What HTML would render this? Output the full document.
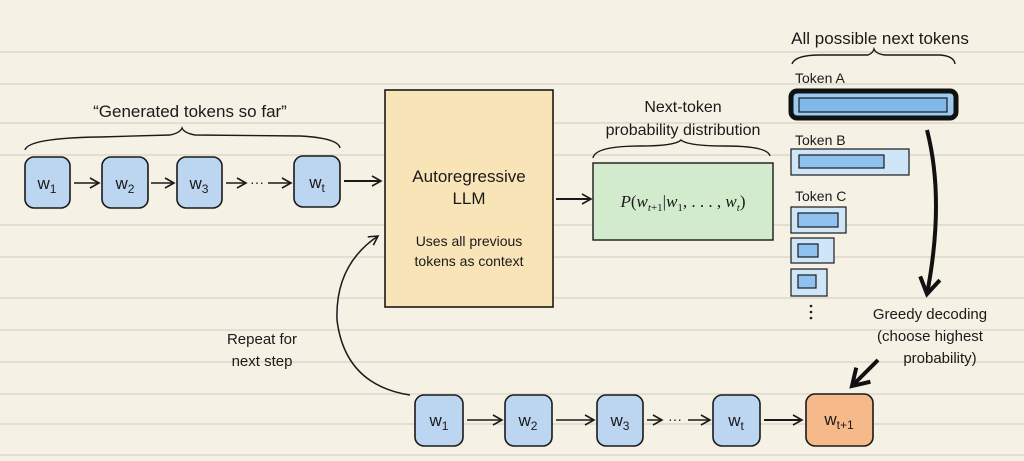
<!DOCTYPE html>
<html><head><meta charset="utf-8"><style>
html,body{margin:0;padding:0;background:#f5f1e4;}
svg{display:block;}
text{font-family:"Liberation Sans",sans-serif;fill:#1a1a1a;}
</style></head><body>
<svg width="1024" height="461" viewBox="0 0 1024 461" xmlns="http://www.w3.org/2000/svg">
<defs>
<marker id="ah" markerWidth="12" markerHeight="12" refX="10" refY="6" orient="auto" markerUnits="userSpaceOnUse">
<path d="M1,1 L10,6 L1,11" fill="none" stroke="#1a1a1a" stroke-width="1.6"/></marker>
<marker id="ahb" markerWidth="24" markerHeight="24" refX="18" refY="12" orient="auto" markerUnits="userSpaceOnUse">
<path d="M2,2 L18,12 L2,22" fill="none" stroke="#111" stroke-width="4"/></marker>
</defs>
<rect width="1024" height="461" fill="#f5f1e4"/>
<g stroke="#dcd8cc" stroke-width="1.5">
<line x1="0" y1="52" x2="1024" y2="52"/><line x1="0" y1="84" x2="1024" y2="84"/>
<line x1="0" y1="123" x2="1024" y2="123"/><line x1="0" y1="155" x2="1024" y2="155"/>
<line x1="0" y1="225" x2="1024" y2="225"/><line x1="0" y1="257" x2="1024" y2="257"/>
<line x1="0" y1="298" x2="1024" y2="298"/><line x1="0" y1="330" x2="1024" y2="330"/>
<line x1="0" y1="362" x2="1024" y2="362"/><line x1="0" y1="394" x2="1024" y2="394"/>
<line x1="0" y1="424" x2="1024" y2="424"/><line x1="0" y1="455" x2="1024" y2="455"/>
</g>
<!-- top tokens -->
<text x="190" y="117" font-size="17" text-anchor="middle">“Generated tokens so far”</text>
<path d="M25,150 Q28,138 100,137 L170,135 Q180,133 182,128 Q184,133 195,135 L300,136 Q338,138 340,148" fill="none" stroke="#1a1a1a" stroke-width="1.4"/>
<g fill="#bcd6f2" stroke="#1a1a1a" stroke-width="1.6">
<rect x="25" y="157" width="45" height="51" rx="9"/><rect x="102" y="157" width="46" height="51" rx="9"/>
<rect x="177" y="157" width="45" height="51" rx="9"/><rect x="294" y="156" width="46" height="51" rx="9"/>
</g>
<g font-size="17" text-anchor="middle"><text x="47" y="189">w<tspan font-size="12" dy="4">1</tspan></text>
<text x="125" y="189">w<tspan font-size="12" dy="4">2</tspan></text><text x="199" y="189">w<tspan font-size="12" dy="4">3</tspan></text>
<text x="317" y="188">w<tspan font-size="12" dy="4">t</tspan></text></g>
<g stroke="#1a1a1a" stroke-width="1.5" fill="none" marker-end="url(#ah)">
<line x1="74" y1="183" x2="99" y2="183"/><line x1="151" y1="183" x2="174" y2="183"/>
<line x1="226" y1="183" x2="246" y2="183"/><line x1="268" y1="183" x2="291" y2="183"/>
<line x1="344" y1="181" x2="381" y2="181" stroke-width="2"/>
<line x1="556" y1="199" x2="591" y2="199" stroke-width="2"/>
</g>
<text x="257" y="187" font-size="14" text-anchor="middle">···</text>
<!-- LLM -->
<rect x="385" y="90" width="168" height="217" fill="#f8e4b6" stroke="#1a1a1a" stroke-width="1.6"/>
<text x="469" y="182" font-size="17" text-anchor="middle">Autoregressive</text>
<text x="469" y="204" font-size="17" text-anchor="middle">LLM</text>
<text x="469" y="246" font-size="14" text-anchor="middle">Uses all previous</text>
<text x="469" y="266" font-size="14" text-anchor="middle">tokens as context</text>
<!-- distribution -->
<text x="683" y="112" font-size="16" text-anchor="middle">Next-token</text>
<text x="683" y="135" font-size="16" text-anchor="middle">probability distribution</text>
<path d="M593,158 Q595,146 640,146 Q675,146 681,140 Q688,146 725,146 Q768,146 770,156" fill="none" stroke="#1a1a1a" stroke-width="1.4"/>
<rect x="593" y="163" width="180" height="77" fill="#d3ebcd" stroke="#1a1a1a" stroke-width="1.4"/>
<text x="683" y="207" font-size="17" text-anchor="middle" font-family="Liberation Serif" style="font-family:'Liberation Serif',serif"><tspan font-style="italic">P</tspan>(<tspan font-style="italic">w</tspan><tspan font-size="11" dy="4"><tspan font-style="italic">t</tspan>+1</tspan><tspan dy="-4">|</tspan><tspan font-style="italic">w</tspan><tspan font-size="11" dy="4">1</tspan><tspan dy="-4">, . . . , </tspan><tspan font-style="italic">w</tspan><tspan font-size="11" dy="4" font-style="italic">t</tspan><tspan dy="-4">)</tspan></text>
<!-- tokens -->
<text x="880" y="44" font-size="17" text-anchor="middle">All possible next tokens</text>
<path d="M792,64 Q795,55 820,55 L868,55 Q873,53 874,49 Q876,54 885,55 L940,55 Q954,56 955,64" fill="none" stroke="#1a1a1a" stroke-width="1.4"/>
<text x="795" y="83" font-size="14">Token A</text>
<rect x="791" y="91" width="165" height="27" rx="6" fill="#9ccbf0" stroke="#111" stroke-width="5"/>
<rect x="799" y="98" width="148" height="14" fill="#7fb9ea" stroke="#1a1a1a" stroke-width="1.2"/>
<text x="795" y="145" font-size="14">Token B</text>
<rect x="791" y="149" width="118" height="26" fill="#cfe5f8" stroke="#1a1a1a" stroke-width="1.2"/>
<rect x="799" y="155" width="85" height="13" fill="#8fc2ee" stroke="#1a1a1a" stroke-width="1.2"/>
<text x="795" y="201" font-size="14">Token C</text>
<rect x="791" y="207" width="55" height="26" fill="#cfe5f8" stroke="#1a1a1a" stroke-width="1.2"/>
<rect x="798" y="213" width="40" height="14" fill="#8fc2ee" stroke="#1a1a1a" stroke-width="1.2"/>
<rect x="791" y="238" width="43" height="25" fill="#cfe5f8" stroke="#1a1a1a" stroke-width="1.2"/>
<rect x="798" y="244" width="20" height="13" fill="#8fc2ee" stroke="#1a1a1a" stroke-width="1.2"/>
<rect x="791" y="269" width="36" height="27" fill="#cfe5f8" stroke="#1a1a1a" stroke-width="1.2"/>
<rect x="798" y="275" width="18" height="13" fill="#8fc2ee" stroke="#1a1a1a" stroke-width="1.2"/>
<g fill="#1a1a1a"><circle cx="811" cy="306" r="1.3"/><circle cx="811" cy="312" r="1.3"/><circle cx="811" cy="318" r="1.3"/></g>
<path d="M927,130 Q945,200 927,294" fill="none" stroke="#111" stroke-width="4" marker-end="url(#ahb)"/>
<text x="930" y="319" font-size="15" text-anchor="middle">Greedy decoding</text>
<text x="930" y="341" font-size="15" text-anchor="middle">(choose highest</text>
<text x="940" y="363" font-size="15" text-anchor="middle">probability)</text>
<path d="M878,360 L852,386" fill="none" stroke="#111" stroke-width="4" marker-end="url(#ahb)"/>
<!-- repeat -->
<text x="262" y="344" font-size="15" text-anchor="middle">Repeat for</text>
<text x="262" y="366" font-size="15" text-anchor="middle">next step</text>
<path d="M410,395 Q345,385 337,320 Q335,265 378,236" fill="none" stroke="#1a1a1a" stroke-width="1.5" marker-end="url(#ah)"/>
<!-- bottom tokens -->
<g fill="#bcd6f2" stroke="#1a1a1a" stroke-width="1.6">
<rect x="415" y="395" width="48" height="51" rx="9"/><rect x="505" y="395" width="47" height="51" rx="9"/>
<rect x="597" y="395" width="46" height="51" rx="9"/><rect x="713" y="395" width="47" height="51" rx="9"/>
<rect x="806" y="394" width="67" height="52" rx="9" fill="#f6b98a"/>
</g>
<g font-size="17" text-anchor="middle"><text x="439" y="426">w<tspan font-size="12" dy="4">1</tspan></text>
<text x="528" y="426">w<tspan font-size="12" dy="4">2</tspan></text><text x="620" y="426">w<tspan font-size="12" dy="4">3</tspan></text>
<text x="736" y="426">w<tspan font-size="12" dy="4">t</tspan></text><text x="839" y="425">w<tspan font-size="12" dy="4">t+1</tspan></text></g>
<g stroke="#1a1a1a" stroke-width="1.5" fill="none" marker-end="url(#ah)">
<line x1="467" y1="420" x2="502" y2="420"/><line x1="556" y1="420" x2="594" y2="420"/>
<line x1="647" y1="420" x2="662" y2="420"/><line x1="688" y1="420" x2="710" y2="420"/>
<line x1="764" y1="420" x2="802" y2="420" stroke-width="2"/>
</g>
<text x="675" y="424" font-size="14" text-anchor="middle">···</text>
</svg>
</body></html>
